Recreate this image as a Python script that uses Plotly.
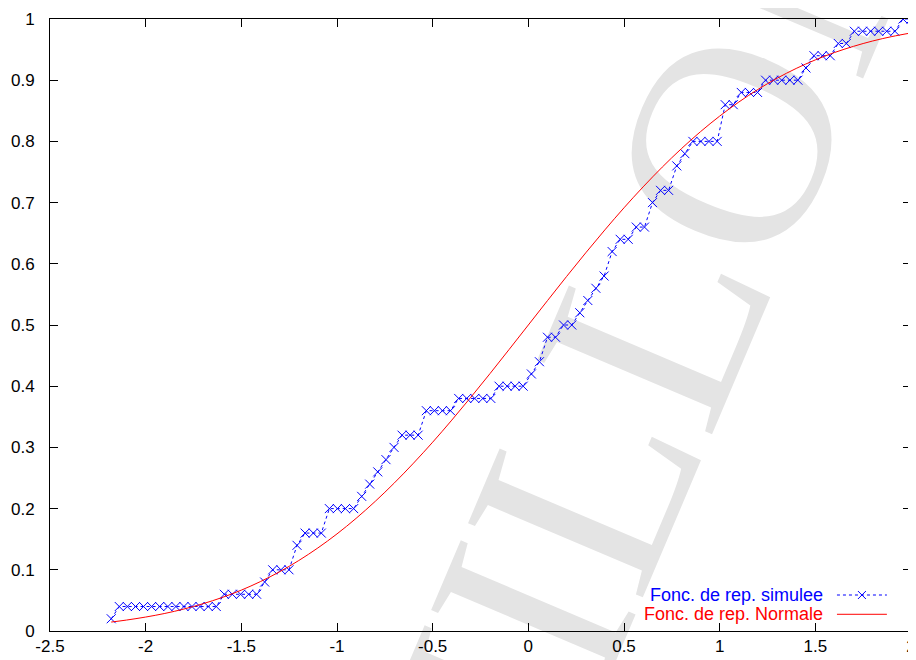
import plotly.graph_objects as go

# ---------------- data ----------------
# grid abscissae of the simulated distribution function
x_sim = [-2.180, -2.138, -2.096, -2.053, -2.011, -1.969, -1.927, -1.884, -1.842, -1.800,
         -1.758, -1.716, -1.673, -1.631, -1.589, -1.547, -1.504, -1.462, -1.420, -1.378,
         -1.336, -1.293, -1.251, -1.209, -1.167, -1.124, -1.082, -1.040, -0.998, -0.956,
         -0.913, -0.871, -0.829, -0.787, -0.744, -0.702, -0.660, -0.618, -0.576, -0.533,
         -0.491, -0.449, -0.407, -0.364, -0.322, -0.280, -0.238, -0.196, -0.153, -0.111,
         -0.069, -0.027, 0.016, 0.058, 0.100, 0.142, 0.184, 0.227, 0.269, 0.311,
         0.353, 0.396, 0.438, 0.480, 0.522, 0.564, 0.607, 0.649, 0.691, 0.733,
         0.776, 0.818, 0.860, 0.902, 0.944, 0.987, 1.029, 1.071, 1.113, 1.156,
         1.198, 1.240, 1.282, 1.324, 1.367, 1.409, 1.451, 1.493, 1.536, 1.578,
         1.620, 1.662, 1.704, 1.747, 1.789, 1.831, 1.873, 1.916, 1.958, 2.000]
y_sim = [0.02, 0.04, 0.04, 0.04, 0.04, 0.04, 0.04, 0.04, 0.04, 0.04,
         0.04, 0.04, 0.04, 0.04, 0.06, 0.06, 0.06, 0.06, 0.06, 0.08,
         0.10, 0.10, 0.10, 0.14, 0.16, 0.16, 0.16, 0.20, 0.20, 0.20,
         0.20, 0.22, 0.24, 0.26, 0.28, 0.30, 0.32, 0.32, 0.32, 0.36,
         0.36, 0.36, 0.36, 0.38, 0.38, 0.38, 0.38, 0.38, 0.40, 0.40,
         0.40, 0.40, 0.42, 0.44, 0.48, 0.48, 0.50, 0.50, 0.52, 0.54,
         0.56, 0.58, 0.62, 0.64, 0.64, 0.66, 0.66, 0.70, 0.72, 0.72,
         0.76, 0.78, 0.80, 0.80, 0.80, 0.80, 0.86, 0.86, 0.88, 0.88,
         0.88, 0.90, 0.90, 0.90, 0.90, 0.90, 0.92, 0.94, 0.94, 0.94,
         0.96, 0.96, 0.98, 0.98, 0.98, 0.98, 0.98, 0.98, 1.00, 1.00]

# normal distribution function
x_norm = [-2.18, -2.1, -2.0, -1.9, -1.8, -1.7, -1.6, -1.5, -1.4, -1.3, -1.2, -1.1,
          -1.0, -0.9, -0.8, -0.7, -0.6, -0.5, -0.4, -0.3, -0.2, -0.1, 0.0,
          0.1, 0.2, 0.3, 0.4, 0.5, 0.6, 0.7, 0.8, 0.9, 1.0, 1.1, 1.2, 1.3,
          1.4, 1.5, 1.6, 1.7, 1.8, 1.9, 2.0]
y_norm = [0.0146, 0.0179, 0.0228, 0.0287, 0.0359, 0.0446, 0.0548, 0.0668, 0.0808,
          0.0968, 0.1151, 0.1357, 0.1587, 0.1841, 0.2119, 0.2420, 0.2743, 0.3085,
          0.3446, 0.3821, 0.4207, 0.4602, 0.5000, 0.5398, 0.5793, 0.6179, 0.6554,
          0.6915, 0.7257, 0.7580, 0.7881, 0.8159, 0.8413, 0.8643, 0.8849, 0.9032,
          0.9192, 0.9332, 0.9452, 0.9554, 0.9641, 0.9713, 0.9772]

x_tickvals = [-2.5, -2, -1.5, -1, -0.5, 0, 0.5, 1, 1.5, 2]
x_ticktext = ["-2.5", "-2", "-1.5", "-1", "-0.5", "0", "0.5", "1", "1.5", "2"]
y_tickvals = [0, 0.1, 0.2, 0.3, 0.4, 0.5, 0.6, 0.7, 0.8, 0.9, 1]
y_ticktext = ["0", "0.1", "0.2", "0.3", "0.4", "0.5", "0.6", "0.7", "0.8", "0.9", "1"]

legend_sim = "Fonc. de rep. simulee"
legend_norm = "Fonc. de rep. Normale"
watermark = "BROUILLON"

BLUE = "#0000ff"
RED = "#ff0000"
FONT = "Liberation Sans, Arial, sans-serif"

fig = go.Figure()
fig.add_trace(go.Scatter(
    x=x_sim, y=y_sim, mode="lines+markers", name=legend_sim,
    line=dict(color=BLUE, width=1, dash="dot"),
    marker=dict(symbol="x-thin", size=9, line=dict(color=BLUE, width=1), color=BLUE),
    showlegend=False,
))
fig.add_trace(go.Scatter(
    x=x_norm, y=y_norm, mode="lines", name=legend_norm,
    line=dict(color=RED, width=1, shape="spline"),
    showlegend=False,
))

# gnuplot-style key (text right-aligned, sample after it)
key_y = [0.0588, 0.0273]
key_text_x = 0.900
key_x0, key_x1 = 0.914, 0.972
annotations = []
shapes = []

# background watermark (drawn below the data)
wm_x, wm_y = 0.517, 0.028
shapes.append(dict(type="rect", xref="paper", yref="paper", x0=wm_x - 0.001, x1=wm_x + 0.001,
                   y0=wm_y - 0.001, y1=wm_y + 0.001, layer="below",
                   line=dict(width=0), fillcolor="rgba(0,0,0,0)",
                   label=dict(text=watermark, textangle=-67, textposition="middle center",
                              font=dict(family="Liberation Serif, Times New Roman, serif",
                                        size=290, color="#e4e4e4"))))

for txt, col, yy in [(legend_sim, BLUE, key_y[0]), (legend_norm, RED, key_y[1])]:
    annotations.append(dict(xref="paper", yref="paper", x=key_text_x, y=yy,
                            text=txt, showarrow=False, xanchor="right", yanchor="middle",
                            font=dict(family=FONT, size=18, color=col)))
shapes.append(dict(type="line", xref="paper", yref="paper", x0=key_x0, x1=key_x1,
                   y0=key_y[0], y1=key_y[0], line=dict(color=BLUE, width=1, dash="dot")))
shapes.append(dict(type="line", xref="paper", yref="paper", x0=key_x0, x1=key_x1,
                   y0=key_y[1], y1=key_y[1], line=dict(color=RED, width=1)))
cx = (key_x0 + key_x1) / 2
dx, dy = 4.0 / 861, 4.0 / 612
shapes.append(dict(type="path", xref="paper", yref="paper",
                   path=f"M {cx-dx} {key_y[0]-dy} L {cx+dx} {key_y[0]+dy} M {cx-dx} {key_y[0]+dy} L {cx+dx} {key_y[0]-dy}",
                   line=dict(color=BLUE, width=1)))

axis_common = dict(showgrid=False, zeroline=False, showline=True, linecolor="#000000",
                   linewidth=1, mirror="ticks", ticks="inside", ticklen=8, tickwidth=1,
                   tickcolor="#000000", tickfont=dict(family=FONT, size=17, color="#000000"),
                   automargin=False)

# the page adds an 8 px body margin, so the margins are reduced accordingly
fig.update_layout(
    width=916, height=660,
    margin=dict(l=42, r=13, t=11, b=37, pad=0),
    paper_bgcolor="white", plot_bgcolor="rgba(0,0,0,0)",
    xaxis=dict(range=[-2.5, 2], tickmode="array", tickvals=x_tickvals, ticktext=x_ticktext,
               ticklabelstandoff=0, **axis_common),
    yaxis=dict(range=[0, 1], tickmode="array", tickvals=y_tickvals, ticktext=y_ticktext,
               ticklabelstandoff=11, **axis_common),
    annotations=annotations, shapes=shapes,
)

fig.write_html("out.html")
